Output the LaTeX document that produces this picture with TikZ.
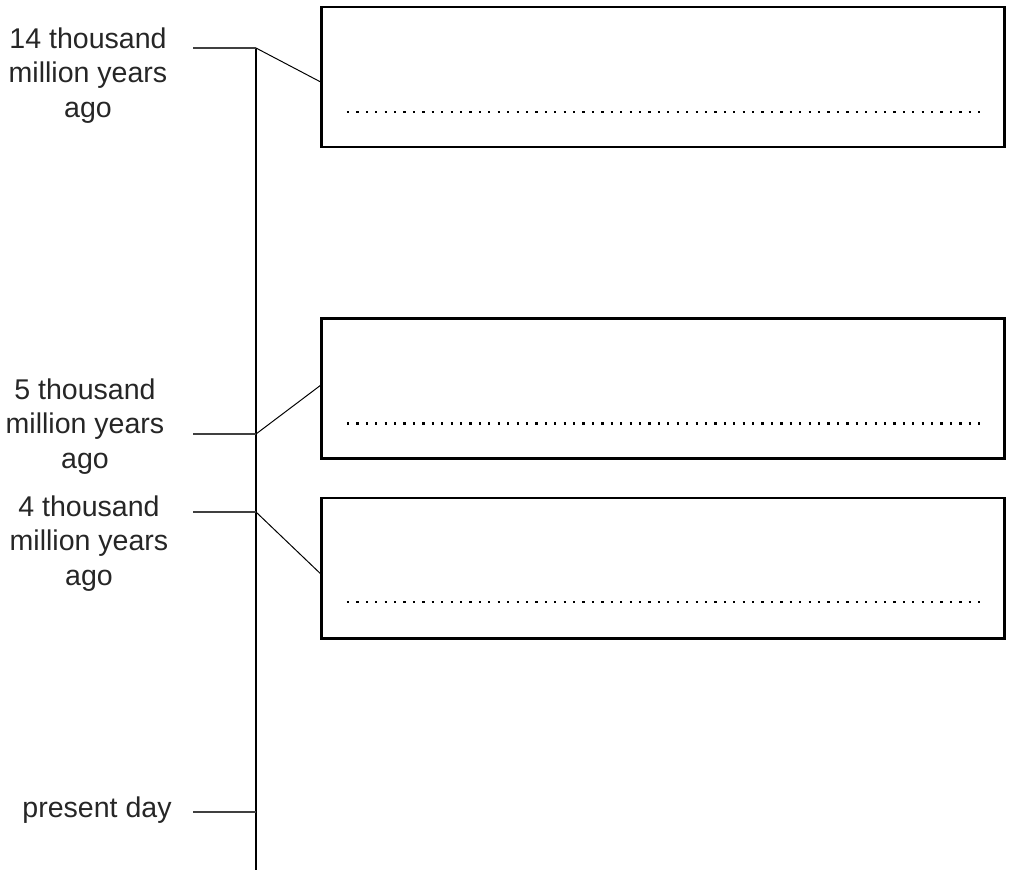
\documentclass[tikz,border=0pt]{standalone}
\usepackage{fontspec}
\setmainfont{Liberation Sans}
\usetikzlibrary{positioning}

\begin{document}
\begin{tikzpicture}[x=0.025cm,y=-0.025cm]
  \useasboundingbox (0,0) rectangle (1009,870);
  \tikzstyle{answerbox}=[draw,line width=2.1pt,inner sep=0pt,outer sep=0pt,
                         minimum width=17.05cm,minimum height=3.5cm]
  \tikzstyle{answerline}=[line width=1.6pt,dash pattern=on 1.6pt off 5.1pt]
  \tikzstyle{datelabel}=[align=center,anchor=base,inner sep=0pt,text=black!85,
                         font=\fontsize{20.3}{24.2}\selectfont]
  \tikzstyle{tick}=[line width=0.9pt,black!75]

  % time line
  \coordinate (top) at (256,48);
  \coordinate (bottom) at (256,870);
  \draw[line width=1.1pt] (top) -- (bottom);

  \coordinate (t14) at (256,48);
  \coordinate (t5) at (256,434);
  \coordinate (t4) at (256,512);
  \coordinate (tnow) at (256,812);
  \coordinate (l14) at (193,48);
  \coordinate (l5) at (193,434);
  \coordinate (l4) at (193,512);
  \coordinate (lnow) at (193,812);
  \draw[tick] (l14) -- (t14);
  \draw[tick] (l5) -- (t5);
  \draw[tick] (l4) -- (t4);
  \draw[tick] (lnow) -- (tnow);

  % base = baseline of the last line
  \node[datelabel] (d14) at (88,117) {14 thousand\\million years\\ago};
  \node[datelabel] (d5) at (85,468) {5 thousand\\million years\\ago};
  \node[datelabel] (d4) at (89,585) {4 thousand\\million years\\ago};
  \node[datelabel] (dnow) at (97,817) {present day};

  % boxes
  \node[answerbox] (box1) at (663,77) {};
  \node[answerbox] (box2) at (663,388.5) {};
  \node[answerbox] (box3) at (663,568) {};

  \draw[line width=0.7pt] (t14) -- ([yshift=-4]box1.west);
  \draw[line width=0.7pt] (t5) -- ([yshift=3]box2.west);
  \draw[line width=0.7pt] (t4) -- ([yshift=-5]box3.west);

  \draw[answerline] ([shift={(25,-35)}]box1.south west) -- ([shift={(-19,-35)}]box1.south east);
  \draw[answerline] ([shift={(25,-35)}]box2.south west) -- ([shift={(-19,-35)}]box2.south east);
  \draw[answerline] ([shift={(25,-36)}]box3.south west) -- ([shift={(-19,-36)}]box3.south east);
\end{tikzpicture}
\end{document}
